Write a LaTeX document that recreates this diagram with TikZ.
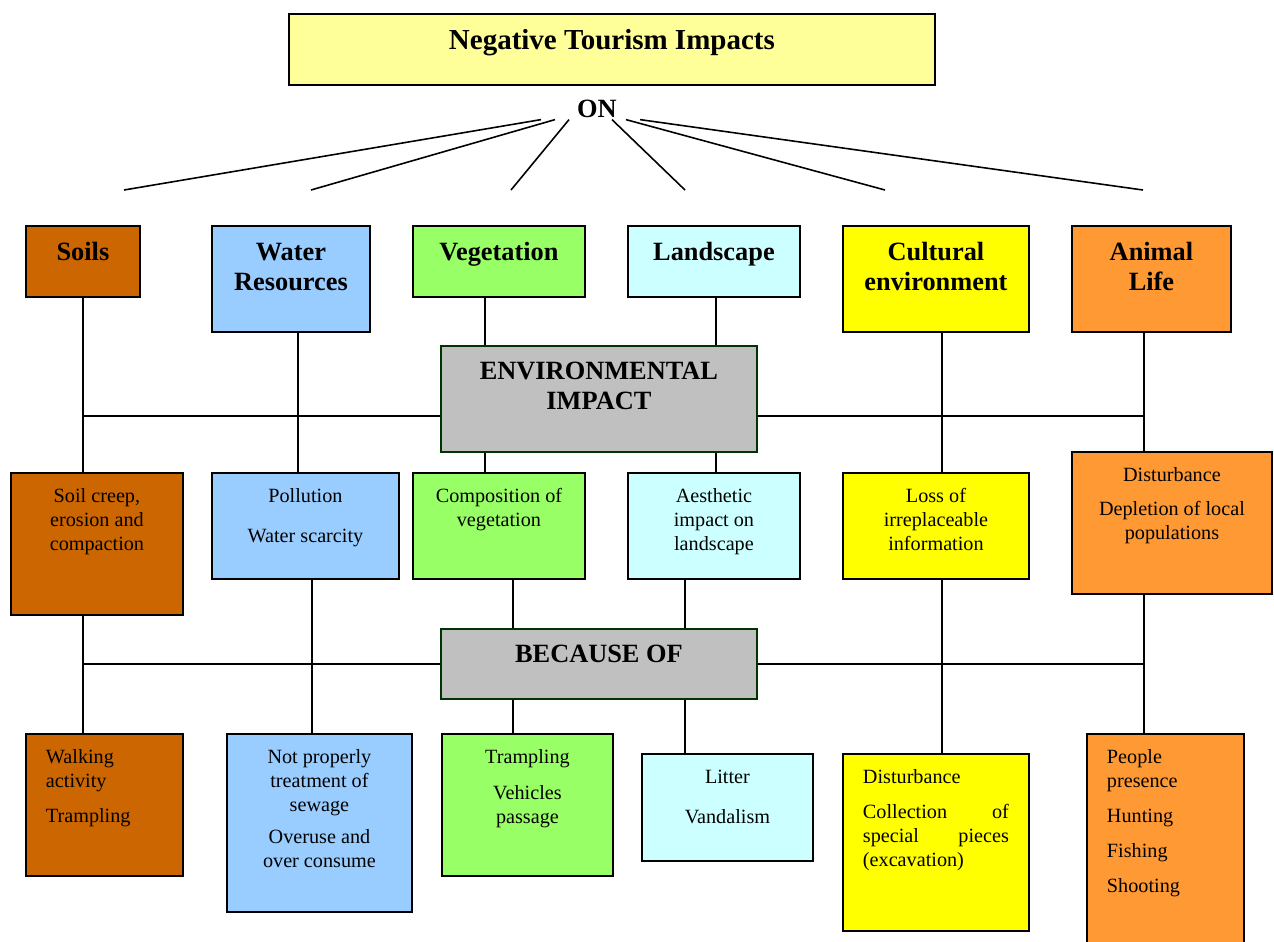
\documentclass[tikz,border=0pt]{standalone}
\usepackage{fontspec}
\setmainfont{Liberation Serif}
\usepackage{tikz}
\definecolor{titlefill}{HTML}{FFFF99}
\definecolor{soilfill}{HTML}{CC6600}
\definecolor{waterfill}{HTML}{99CCFF}
\definecolor{vegfill}{HTML}{99FF66}
\definecolor{landfill}{HTML}{CCFFFF}
\definecolor{cultfill}{HTML}{FFFF00}
\definecolor{animfill}{HTML}{FF9933}
\definecolor{hubfill}{HTML}{C0C0C0}
\definecolor{edgegreen}{HTML}{003300}
\newcommand\bodyfont{\fontsize{11.5}{13.6}\selectfont}
\newcommand\headfont{\fontsize{15}{16.8}\selectfont\bfseries}
\newcommand\titlefont{\fontsize{16.5}{19}\selectfont\bfseries}
\tikzstyle{box} = [draw=black, line width=1.1pt, anchor=north west, inner sep=0pt, align=flush center]
\tikzstyle{head} = [box, font=\headfont, text height=0.70cm]
\tikzstyle{body} = [box, font=\bodyfont, text height=0.60cm]
\tikzstyle{hub} = [box, draw=edgegreen, fill=hubfill, font=\headfont, text height=0.68cm]
\tikzstyle{link} = [draw, line width=0.9pt, -]

\begin{document}
\begin{tikzpicture} [x=0.02cm, y=-0.02cm]

  \useasboundingbox (0,0) rectangle (1274,941);

  \node[box, fill=titlefill, font=\titlefont, text width=12.92cm, text height=0.72cm, text depth=0.70cm] (title) at (288,13) {Negative Tourism Impacts};
  \node[font=\headfont, inner sep=0pt, anchor=base] (on) at (597,117) {ON};

  % topics
  \node[head, fill=soilfill, text width=2.28cm, text depth=0.72cm] (soils) at (25,225) {Soils};
  \node[head, fill=waterfill, text width=3.16cm, text depth=1.42cm] (water) at (211,225) {Water\\Resources};
  \node[head, fill=vegfill, text width=3.44cm, text depth=0.72cm] (veg) at (412,225) {Vegetation};
  \node[head, fill=landfill, text width=3.44cm, text depth=0.72cm] (land) at (627,225) {Landscape};
  \node[head, fill=cultfill, text width=3.72cm, text depth=1.42cm] (cult) at (842,225) {Cultural\\environment};
  \node[head, fill=animfill, text width=3.18cm, text depth=1.42cm] (anim) at (1071,225) {Animal\\Life};

  \node[hub, text width=6.32cm, text depth=1.44cm] (env) at (440,345) {ENVIRONMENTAL\\IMPACT};
  \node[hub, text width=6.32cm, text depth=0.72cm] (cause) at (440,628) {BECAUSE OF};

  % impacts
  \node[body, fill=soilfill, text width=3.44cm, text depth=2.24cm] (creep) at (10,472) {Soil creep,\\erosion and\\compaction};
  \node[body, fill=waterfill, text width=3.74cm, text depth=1.52cm] (poll) at (211,472) {Pollution\\[0.32cm]Water scarcity};
  \node[body, fill=vegfill, text width=3.44cm, text depth=1.52cm] (comp) at (412,472) {Composition of\\vegetation};
  \node[body, fill=landfill, text width=3.44cm, text depth=1.52cm] (aest) at (627,472) {Aesthetic\\impact on\\landscape};
  \node[body, fill=cultfill, text width=3.72cm, text depth=1.52cm] (loss) at (842,472) {Loss of\\irreplaceable\\information};
  \node[body, fill=animfill, text width=4.00cm, text depth=2.24cm] (dist) at (1071,451) {Disturbance\\[0.20cm]Depletion of local\\populations};

  % causes
  \node[body, fill=soilfill, align=flush left, inner xsep=0.4cm, text width=2.34cm, text depth=2.24cm] (walk) at (25,733) {Walking\\activity\\[0.21cm]Trampling};
  \node[body, fill=waterfill, text width=3.70cm, text depth=2.96cm] (sewage) at (226,733) {Not properly\\treatment of\\sewage\\[0.16cm]Overuse and\\over consume};
  \node[body, fill=vegfill, text width=3.42cm, text depth=2.24cm] (tramp) at (441,733) {Trampling\\[0.23cm]Vehicles\\passage};
  \node[body, fill=landfill, text width=3.42cm, text depth=1.54cm] (litter) at (641,753) {Litter\\[0.32cm]Vandalism};
  \node[body, fill=cultfill, align=flush left, inner xsep=0.4cm, text width=2.92cm, text depth=2.94cm] (digs) at (842,753) {Disturbance\\[0.22cm]Collection\hfill of\\special\hfill pieces\\(excavation)};
  \node[body, fill=animfill, align=flush left, inner xsep=0.4cm, text width=2.34cm, text depth=4.00cm] (hunt) at (1086,733) {People\\presence\\[0.22cm]Hunting\\[0.22cm]Fishing\\[0.22cm]Shooting};

  % fan under ON
  \foreach \dx/\ex [count=\i] in {-1.12/124, -0.84/311, -0.56/511, 0.30/685, 0.58/885, 0.86/1143} {
    \coordinate (leg\i) at (\ex,190);
    \draw[link] ([xshift=\dx cm, yshift=-0.04cm]on.south) -- (leg\i);
  }

  % upper level
  \draw[link] (soils.south) -- (soils.south |- creep.north);
  \draw[link] ([xshift=0.14cm]water.south) -- ([xshift=0.14cm]water.south |- poll.north);
  \draw[link] ([xshift=-0.28cm]veg.south) -- ([xshift=-0.28cm]veg.south |- env.north);
  \draw[link] ([xshift=-0.28cm]comp.north) -- ([xshift=-0.28cm]comp.north |- env.south);
  \draw[link] ([xshift=0.04cm]land.south) -- ([xshift=0.04cm]land.south |- env.north);
  \draw[link] ([xshift=0.04cm]aest.north) -- ([xshift=0.04cm]aest.north |- env.south);
  \draw[link] ([xshift=0.12cm]cult.south) -- ([xshift=0.12cm]cult.south |- loss.north);
  \draw[link] ([xshift=-0.15cm]anim.south) -- ([xshift=-0.15cm]anim.south |- dist.north);
  \draw[link] ([yshift=-0.34cm]env.west) -- ([yshift=-0.34cm]env.west -| soils.south);
  \draw[link] ([yshift=-0.34cm]env.east) -- ([xshift=-0.15cm,yshift=-0.34cm]env.east -| anim.south);

  % lower level
  \draw[link] ([xshift=-0.28cm]creep.south) -- ([xshift=-0.28cm]creep.south |- walk.north);
  \draw[link] ([xshift=0.13cm]poll.south) -- ([xshift=0.13cm]poll.south |- sewage.north);
  \draw[link] ([xshift=0.28cm]comp.south) -- ([xshift=0.28cm]comp.south |- cause.north);
  \draw[link] ([xshift=-0.29cm]tramp.north) -- ([xshift=-0.29cm]tramp.north |- cause.south);
  \draw[link] ([xshift=-0.58cm]aest.south) -- ([xshift=-0.58cm]aest.south |- cause.north);
  \draw[link] ([xshift=-0.85cm]litter.north) -- ([xshift=-0.85cm]litter.north |- cause.south);
  \draw[link] ([xshift=0.12cm]loss.south) -- ([xshift=0.12cm]loss.south |- digs.north);
  \draw[link] ([xshift=-0.56cm]dist.south) -- ([xshift=-0.56cm]dist.south |- hunt.north);
  \draw[link] (cause.west) -- (cause.west -| soils.south);
  \draw[link] (cause.east) -- ([xshift=-0.15cm]cause.east -| anim.south);

\end{tikzpicture}
\end{document}
